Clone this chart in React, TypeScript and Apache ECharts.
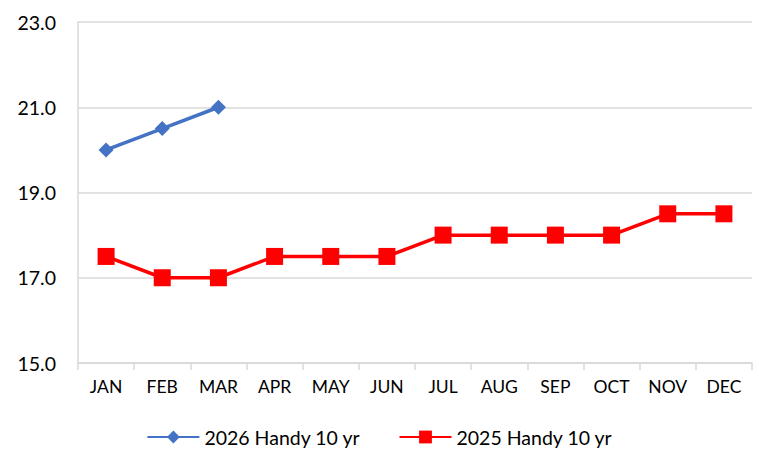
import React, { useEffect, useRef } from "react";
import * as echarts from "echarts";

const months = ["JAN", "FEB", "MAR", "APR", "MAY", "JUN", "JUL", "AUG", "SEP", "OCT", "NOV", "DEC"];
const series2026Name = "2026 Handy 10 yr";
const series2026 = [20.0, 20.5, 21.0];
const series2025Name = "2025 Handy 10 yr";
const series2025 = [17.5, 17.0, 17.0, 17.5, 17.5, 17.5, 18.0, 18.0, 18.0, 18.0, 18.5, 18.5];

const FONT = "Lato, 'Noto Sans', sans-serif";

export default function App() {
  const ref = useRef<HTMLDivElement>(null);
  useEffect(() => {
    if (!ref.current) return;
    const chart = echarts.init(ref.current, undefined, { renderer: "svg" });
    chart.setOption({
      animation: false,
      backgroundColor: "#ffffff",
      grid: { left: 78, right: 7, top: 22, bottom: 92, containLabel: false },
      legend: {
        bottom: 3,
        left: "center",
        itemWidth: 52,
        itemHeight: 16,
        itemGap: 38,
        textStyle: { fontFamily: FONT, fontSize: 19.5, color: "#000" },
        data: [series2026Name, series2025Name],
      },
      xAxis: {
        type: "category",
        data: months,
        boundaryGap: true,
        axisLine: { show: true, lineStyle: { color: "#D9D9D9", width: 1.5 } },
        axisTick: { show: true, length: 7, lineStyle: { color: "#D9D9D9", width: 1.5 } },
        axisLabel: { fontFamily: FONT, fontSize: 17.5, color: "#000", margin: 14 },
      },
      yAxis: {
        type: "value",
        min: 15,
        max: 23,
        interval: 2,
        axisLine: { show: true, lineStyle: { color: "#D9D9D9", width: 1.5 } },
        axisTick: { show: false },
        splitLine: { show: true, lineStyle: { color: "#D9D9D9", width: 1.5 } },
        axisLabel: {
          fontFamily: FONT,
          fontSize: 19.5,
          color: "#000",
          margin: 22,
          formatter: (v: number) => v.toFixed(1),
        },
      },
      series: [
        {
          name: series2026Name,
          type: "line",
          data: series2026,
          symbol: "diamond",
          symbolSize: 15,
          color: "#4472C4",
          lineStyle: { color: "#4472C4", width: 3.5 },
          itemStyle: { color: "#4472C4" },
        },
        {
          name: series2025Name,
          type: "line",
          data: series2025,
          symbol: "rect",
          symbolSize: 17,
          color: "#FF0000",
          lineStyle: { color: "#FF0000", width: 3.5 },
          itemStyle: { color: "#FF0000" },
        },
      ],
    });
    return () => chart.dispose();
  }, []);
  return <div ref={ref} style={{ width: 759, height: 455, position: "absolute", left: 0, top: 0 }} />;
}
